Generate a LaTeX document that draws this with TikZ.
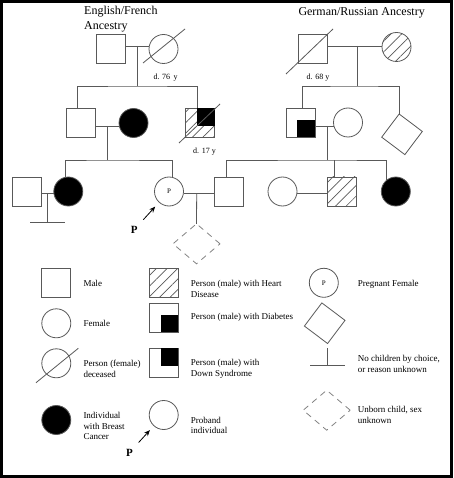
\documentclass[tikz,border=0pt]{standalone}
\usepackage{fontspec}
\setmainfont{Liberation Serif}
\usetikzlibrary{shapes.geometric,patterns.meta,arrows.meta}
\definecolor{lc}{gray}{0.35}
\tikzset{
 ln/.style={draw=lc, line width=0.8pt},
 sq/.style={rectangle, draw=lc, line width=0.8pt, minimum size=29pt, inner sep=0pt, outer sep=0pt},
 ci/.style={circle, draw=lc, line width=0.8pt, minimum size=29pt, inner sep=0pt, outer sep=0pt},
 aff/.style={fill=black},
 hatch/.style={pattern={Lines[angle=45,distance=7.5pt,line width=0.7pt]}, pattern color=lc},
 unk/.style={rectangle, draw=lc, line width=0.8pt, minimum size=29pt, inner sep=0pt, outer sep=0pt, rotate=-37},
 unborn/.style={diamond, draw=lc!75, line width=0.8pt, dash pattern=on 6pt off 5pt, minimum width=47pt, minimum height=40pt, inner sep=0pt, outer sep=0pt},
 ttl/.style={font=\fontsize{12}{15}\selectfont, inner sep=0pt, anchor=base west},
 lbl/.style={font=\fontsize{9}{10.7}\selectfont, inner sep=0pt, anchor=west, align=left},
 age/.style={font=\fontsize{8}{9}\selectfont, inner sep=0pt},
 pmark/.style={font=\fontsize{11}{12}\selectfont\bfseries, inner sep=1pt},
 arr/.style={-{Stealth[length=6pt,width=5pt]}, line width=0.8pt, draw=black, shorten <=7pt, shorten >=6pt},
}
\begin{document}
\begin{tikzpicture}[x=1pt,y=-1pt]
\useasboundingbox (0,0) rectangle (453,478);
\fill[white] (0,0) rectangle (453,478);
\draw[line width=3pt] (1.5,1.5) rectangle (451.5,476.5);

% titles
\node[ttl] (t1) at (84,15) {English/French};
\node[ttl] (t2) at (84,30) {Ancestry};
\node[ttl] (t3) at (298.3,16) {German/Russian Ancestry};

% generation I
\node[sq] (gf1) at (110.5,49) {};
\node[ci] (gm1) at (163.5,49) {};
\draw[ln] (gm1) +(-20.5,14) -- +(21.5,-20);
\node[sq] (gf2) at (312.5,49) {};
\draw[ln] (gf2) +(-26.5,25) -- +(20.5,-20);
\node[ci, hatch] (gm2) at (396.5,47) {};
\node[age] (a1) at (165.5,78) {d. 76\, y};
\node[age] (a2) at (318,78) {d. 68 y};

% generation II
\node[sq] (son1) at (80.5,123) {};
\node[ci, aff] (w1) at (133.5,123) {};
\node[sq, hatch] (son2) at (200,123) {};
\fill[black] (son2.north east) rectangle ++(-17.5,17.5);
\draw[ln] (son2) +(-21,20) -- +(20,-19);
\node[age] (a3) at (204.5,152) {d. 17 y};
\node[sq] (son3) at (300.7,123) {};
\fill[black] (son3.south east) rectangle ++(-18,-17);
\node[ci] (w2) at (348,122.5) {};
\node[unk] (d1) at (402,134.3) {};

% generation III
\node[sq] (h1) at (27,191.5) {};
\node[ci, aff] (bc) at (68.3,191.5) {};
\node[ci, font=\fontsize{7}{8}\selectfont] (pr) at (169,191.5) {P};
\node[sq] (h2) at (229,191.5) {};
\node[ci] (wf) at (282.5,191.5) {};
\node[sq, hatch] (hs) at (342.3,191.5) {};
\node[ci, aff] (bc2) at (395.8,191.5) {};
\node[unborn] (ub) at (196.5,243.8) {};
\node[pmark] (pl) at (134.2,229.7) {P};
\draw[arr] (pl) -- (pr);

% connectors generation I
\coordinate (m1) at (137.7,46);
\coordinate (s1) at (137.7,86);
\draw[ln] (gf1.east |- m1) -- (gm1.west |- m1);
\draw[ln] (m1) -- (s1);
\draw[ln] ([xshift=-3pt]son1.north) |- (s1) -| ([xshift=-3pt]son2.north);
\coordinate (m2) at (357.7,46);
\coordinate (s2) at (357.7,86);
\draw[ln] (gf2.east |- m2) -- (gm2.west |- m2);
\draw[ln] (m2) -- (s2);
\draw[ln] ([xshift=2pt]son3.north) |- (s2) -| (d1.north west);

% connectors generation II
\coordinate (m3) at (107,126);
\coordinate (s3) at (107,160);
\draw[ln] (son1.east |- m3) -- (w1.west |- m3);
\draw[ln] (m3) -- (s3);
\draw[ln] (bc.100) |- (s3) -| (pr.77);
\coordinate (m4) at (327.7,126);
\coordinate (s4) at (327.7,160);
\draw[ln] (son3.east |- m4) -- (w2.west |- m4);
\draw[ln] (m4) -- (s4);
\draw[ln] ([xshift=-3pt]h2.north) |- (s4) -| (bc2.128);
\draw[ln] ([xshift=-8pt]hs.north) -- ([xshift=-8pt]hs.north |- s4);

% connectors generation III
\coordinate (m6) at (47.7,193.3);
\draw[ln] (h1.east |- m6) -- (bc.west |- m6);
\draw[ln] (m6) -- ++(0,29.4) coordinate (nc1);
\draw[ln] (nc1) +(-17.7,0) -- +(17.3,0);
\coordinate (m5) at (196.7,193.3);
\draw[ln] (pr.east |- m5) -- (h2.west |- m5);
\draw[ln] (m5) -- (ub.north);
\coordinate (m7) at (312,193.3);
\draw[ln] (wf.east |- m7) -- (hs.west |- m7);

% legend column 1
\node[sq] (Lm) at (56.3,282.5) {};
\node[lbl] (Lmt) at (83.3,283.7) {Male};
\node[ci] (Lf) at (56.3,323.3) {};
\node[lbl] (Lft) at (83.3,323.3) {Female};
\node[ci] (Ld) at (56.3,363.3) {};
\draw[ln] (Ld) +(-20.3,19.4) -- +(22,-15);
\node[lbl] (Ldt) at (83.3,368.7) {Person (female)\\deceased};
\node[ci, aff] (Lb) at (56.3,420) {};
\node[lbl] (Lbt) at (83.3,426) {Individual\\with Breast\\Cancer};

% legend column 2
\node[sq, hatch] (Lh) at (163.7,282.5) {};
\node[lbl] (Lht) at (190.7,289) {Person (male) with Heart\\Disease};
\node[sq] (Ldb) at (163.7,317.5) {};
\fill[black] (Ldb.south east) rectangle ++(-17.5,-17);
\node[lbl] (Ldbt) at (190.7,317.3) {Person (male) with Diabetes};
\node[sq] (Lds) at (163.7,362.8) {};
\fill[black] (Lds.north east) rectangle ++(-17.5,17.5);
\node[lbl] (Ldst) at (190.7,368.7) {Person (male) with\\Down Syndrome};
\node[ci] (Lpb) at (163.7,415) {};
\node[pmark] (Lpl) at (129.5,452.5) {P};
\draw[arr] (Lpl) -- (Lpb);
\node[lbl] (Lpbt) at (190.7,425.3) {Proband\\individual};

% legend column 3
\node[ci, font=\fontsize{7}{8}\selectfont] (Lpg) at (323.8,282.8) {P};
\node[lbl] (Lpgt) at (357.7,284) {Pregnant Female};
\node[unk] (Lu) at (324.7,323.2) {};
\coordinate (Lnc) at (327.7,348.3);
\draw[ln] (Lnc) -- ++(0,17.4) coordinate (Lnb);
\draw[ln] (Lnb) +(-17.7,0) -- +(17.3,0);
\node[lbl] (Lnct) at (357.7,363.7) {No children by choice,\\or reason unknown};
\node[unborn] (Lub) at (326.7,410.2) {};
\node[lbl] (Lubt) at (357.7,414.7) {Unborn child, sex\\unknown};
\end{tikzpicture}
\end{document}
